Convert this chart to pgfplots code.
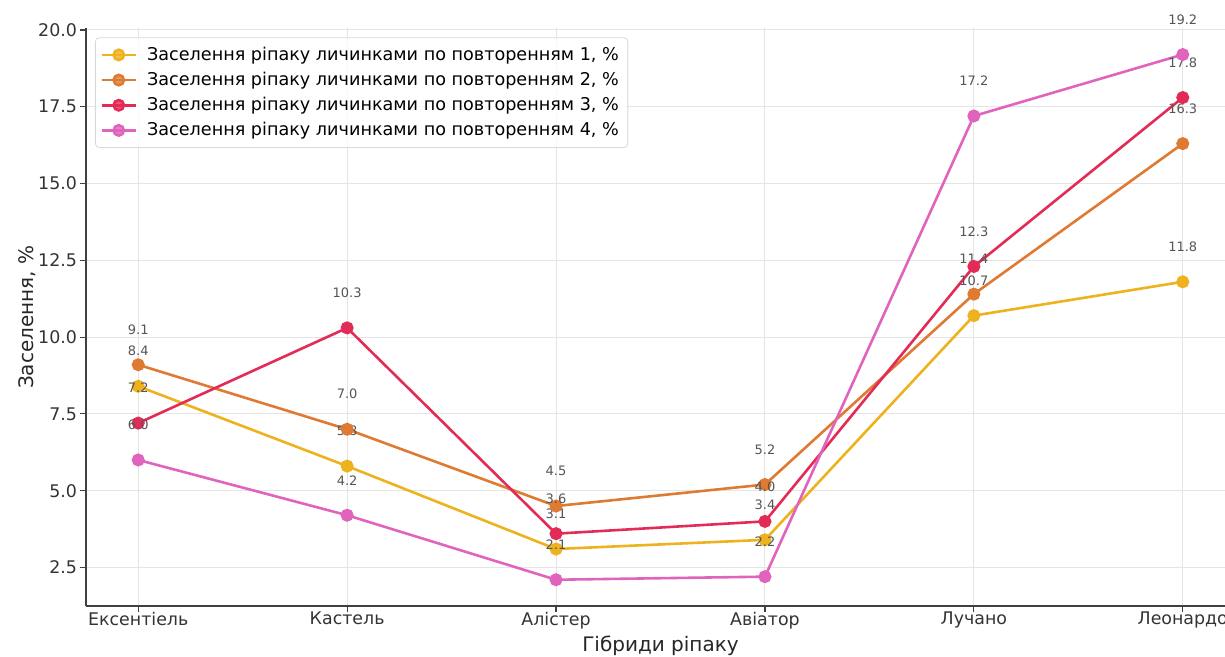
\documentclass[border=0pt]{standalone}
\usepackage{fontspec}
\setmainfont{DejaVu Sans}
\usepackage{pgfplots}
\pgfplotsset{compat=1.18}
\definecolor{cA}{HTML}{EDB21E}
\definecolor{cB}{HTML}{DF7A32}
\definecolor{cC}{HTML}{E32B58}
\definecolor{cD}{HTML}{E064BC}
\definecolor{lab}{HTML}{555555}
\begin{document}
\begin{tikzpicture}
\begin{axis}[
  at={(0,0)}, anchor=south west,
  scale only axis, width=574.5pt, height=288.85pt,
  xmin=-0.25, xmax=5.25, ymin=1.245, ymax=20.055,
  axis x line*=bottom, axis y line*=left,
  axis line style={-, black!75, line width=0.8pt},
  xtick={0,1,2,3,4,5},
  xticklabels={Ексентіель,Кастель,Алістер,Авіатор,Лучано,Леонардо},
  ytick={2.5,5,7.5,10,12.5,15,17.5,20},
  yticklabel style={/pgf/number format/.cd, fixed, fixed zerofill, precision=1, /tikz/.cd, xshift=2pt},
  xticklabel style={yshift=3.5pt},
  /pgf/number format/assume math mode=true,
  tick label style={font=\fontsize{8.7}{10}\selectfont, text=black!80},
  tick align=outside, tick pos=left,
  major tick length=3pt,
  tick style={black!75, line width=0.6pt},
  grid=major, grid style={black!10, line width=0.5pt},
  xlabel={Гібриди ріпаку}, ylabel={Заселення, \%},
  label style={font=\fontsize{10}{12}\selectfont, text=black!85},
  xlabel style={yshift=3.5pt},
  ylabel style={yshift=-5.5pt},
  clip=false,
  legend style={at={(0,1)}, anchor=north west, xshift=4.5pt, yshift=-4.5pt,
    font=\fontsize{8.8}{10}\selectfont, draw=black!15, rounded corners=2pt,
    fill=white, fill opacity=0.8, text opacity=1, row sep=0.4pt, inner sep=2.5pt},
  legend cell align=left,
  every axis plot/.append style={line width=1.3pt, mark=*, mark size=2.6pt},
  nodes near coords={\pgfmathprintnumber[fixed,fixed zerofill,precision=1]{\pgfplotspointmeta}},
  every node near coord/.append style={anchor=center, yshift=17.5pt,
    font=\fontsize{6.5}{7}\selectfont, text=lab},
]
\addplot[color=cA, mark options={fill=cA, draw=cA}] coordinates {(0,8.4) (1,5.8) (2,3.1) (3,3.4) (4,10.7) (5,11.8)};
\addlegendentry{\hspace{3pt}Заселення ріпаку личинками по повторенням 1, \%}
\addplot[color=cB, mark options={fill=cB, draw=cB}] coordinates {(0,9.1) (1,7.0) (2,4.5) (3,5.2) (4,11.4) (5,16.3)};
\addlegendentry{\hspace{3pt}Заселення ріпаку личинками по повторенням 2, \%}
\addplot[color=cC, mark options={fill=cC, draw=cC}] coordinates {(0,7.2) (1,10.3) (2,3.6) (3,4.0) (4,12.3) (5,17.8)};
\addlegendentry{\hspace{3pt}Заселення ріпаку личинками по повторенням 3, \%}
\addplot[color=cD, mark options={fill=cD, draw=cD}] coordinates {(0,6.0) (1,4.2) (2,2.1) (3,2.2) (4,17.2) (5,19.2)};
\addlegendentry{\hspace{3pt}Заселення ріпаку личинками по повторенням 4, \%}
\end{axis}
\pgfresetboundingbox
\path (-43pt,-25.5pt) rectangle (569.5pt,303pt);
\end{tikzpicture}
\end{document}
